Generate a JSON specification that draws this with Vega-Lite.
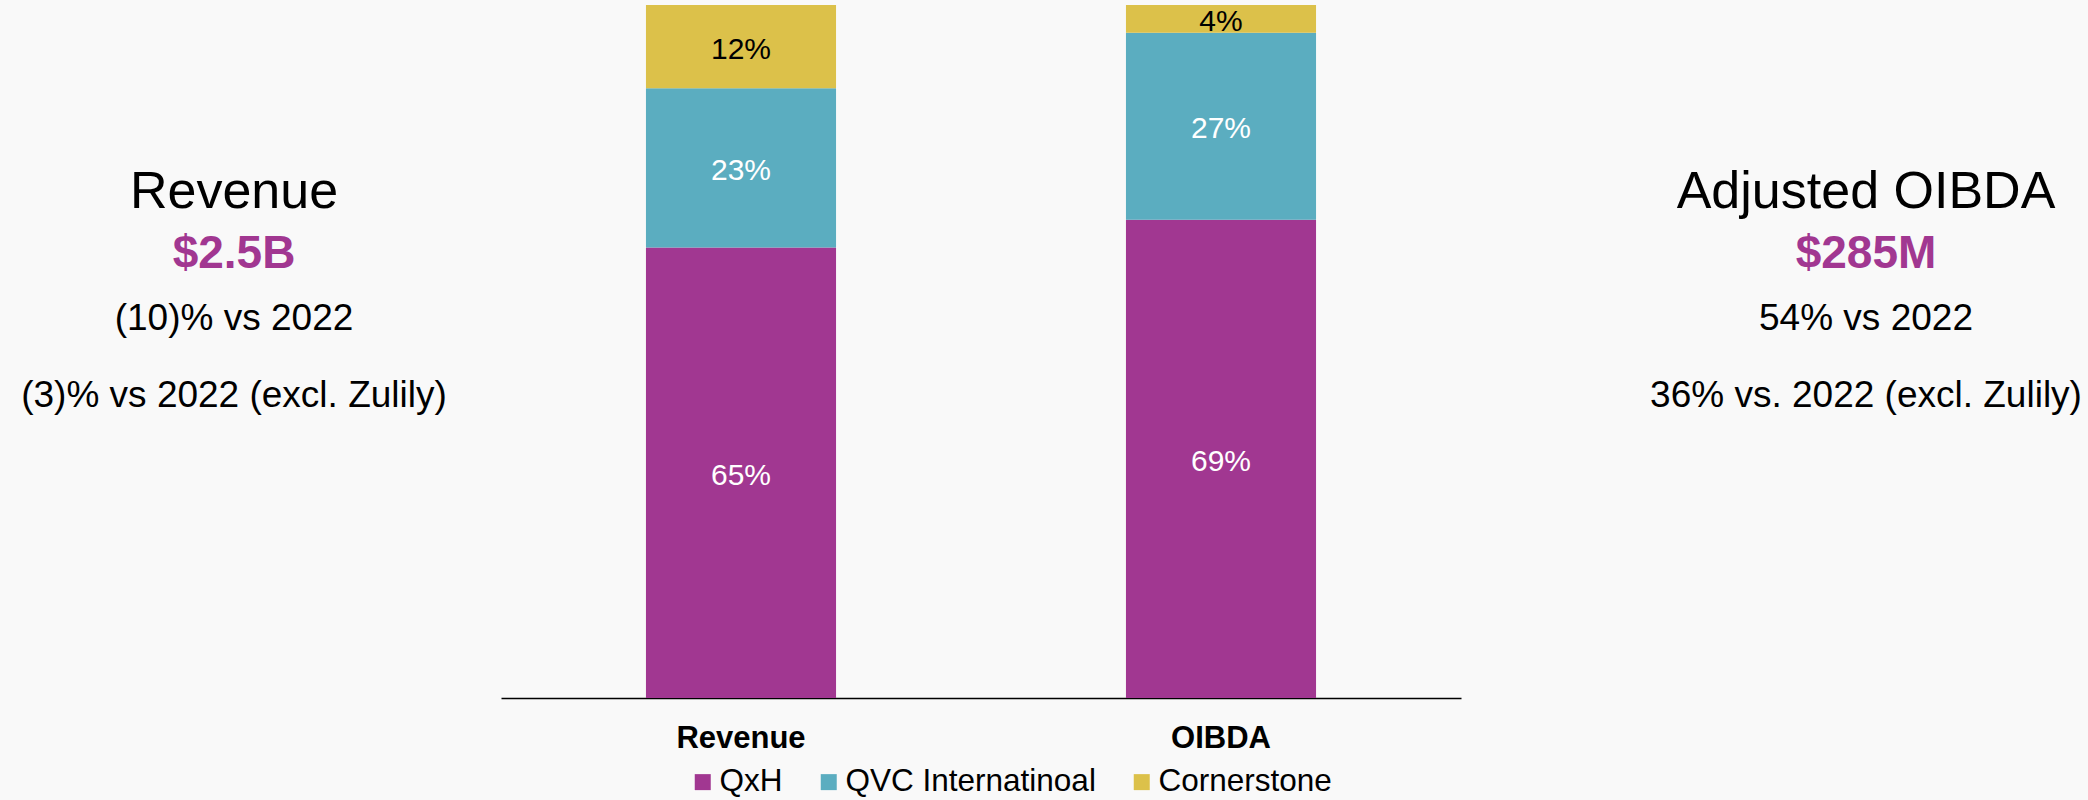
{
  "$schema": "https://vega.github.io/schema/vega-lite/v6.json",
  "width": 2088,
  "height": 693,
  "autosize": {"type": "none"},
  "padding": {"left": 0, "top": 5, "right": 0, "bottom": 102},
  "background": "#f9f9f9",
  "config": {
    "view": {"stroke": null},
    "font": "Liberation Sans",
    "text": {"font": "Liberation Sans"}
  },
  "datasets": {
    "bars": [
      {"metric": "Revenue", "segment": "QxH", "pct": 0.65},
      {"metric": "Revenue", "segment": "QVC Internatinoal", "pct": 0.23},
      {"metric": "Revenue", "segment": "Cornerstone", "pct": 0.12},
      {"metric": "OIBDA", "segment": "QxH", "pct": 0.69},
      {"metric": "OIBDA", "segment": "QVC Internatinoal", "pct": 0.27},
      {"metric": "OIBDA", "segment": "Cornerstone", "pct": 0.04}
    ],
    "notes": [
      {"side": "left", "role": "title", "text": "Revenue"},
      {"side": "left", "role": "value", "text": "$2.5B"},
      {"side": "left", "role": "sub1", "text": "(10)% vs 2022"},
      {"side": "left", "role": "sub2", "text": "(3)% vs 2022 (excl. Zulily)"},
      {"side": "right", "role": "title", "text": "Adjusted OIBDA"},
      {"side": "right", "role": "value", "text": "$285M"},
      {"side": "right", "role": "sub1", "text": "54% vs 2022"},
      {"side": "right", "role": "sub2", "text": "36% vs. 2022 (excl. Zulily)"}
    ]
  },
  "resolve": {"scale": {"x": "independent", "y": "independent"}},
  "layer": [
    {
      "data": {"name": "bars"},
      "transform": [
        {"stack": "pct", "groupby": ["metric"], "sort": [{"field": "segment", "order": "descending"}], "as": ["y0", "y1"]}
      ],
      "mark": {"type": "bar"},
      "encoding": {
        "x": {
          "field": "metric", "type": "nominal", "sort": ["Revenue", "OIBDA"],
          "scale": {"type": "band", "range": [501, 1461], "paddingInner": 0.604, "paddingOuter": 0.302},
          "axis": {
            "title": null, "ticks": false, "tickSize": 0, "domainColor": "#000000", "domainWidth": 1.5,
            "labelFont": "Liberation Sans", "labelFontSize": 31, "labelFontWeight": "bold", "labelColor": "#000000",
            "labelBaseline": "alphabetic", "labelPadding": 49, "labelAngle": 0
          }
        },
        "y": {"field": "y1", "type": "quantitative", "scale": {"domain": [0, 1]}, "axis": null},
        "y2": {"field": "y0"},
        "color": {
          "field": "segment", "type": "nominal",
          "scale": {"domain": ["QxH", "QVC Internatinoal", "Cornerstone"], "range": ["#a13791", "#5badc0", "#dcc14a"]},
          "legend": {
            "title": null, "orient": "none", "direction": "horizontal", "legendX": 687, "legendY": 761,
            "symbolType": "square", "symbolSize": 256, "symbolStrokeWidth": 0, "symbolOpacity": 1,
            "labelFont": "Liberation Sans", "labelFontSize": 31.5, "labelColor": "#000000", "labelOffset": 1,
            "labelLimit": 0, "columnPadding": 30, "padding": 0
          }
        }
      }
    },
    {
      "data": {"name": "bars"},
      "transform": [
        {"stack": "pct", "groupby": ["metric"], "sort": [{"field": "segment", "order": "descending"}], "as": ["y0", "y1"]},
        {"fold": ["y0", "y1"], "as": ["k", "v"]},
        {"aggregate": [{"op": "mean", "field": "v", "as": "mid"}], "groupby": ["metric", "segment", "pct"]}
      ],
      "mark": {"type": "text", "fontSize": 30, "baseline": "middle", "align": "center", "dy": 3},
      "encoding": {
        "x": {
          "field": "metric", "type": "nominal", "sort": ["Revenue", "OIBDA"],
          "scale": {"type": "band", "range": [501, 1461], "paddingInner": 0.604, "paddingOuter": 0.302},
          "axis": null
        },
        "y": {"field": "mid", "type": "quantitative", "scale": {"domain": [0, 1]}, "axis": null},
        "text": {"field": "pct", "type": "quantitative", "format": ".0%"},
        "color": {"condition": {"test": "datum.segment === 'Cornerstone'", "value": "#000000"}, "value": "#ffffff"}
      }
    },
    {
      "data": {"name": "notes"},
      "transform": [{"filter": "datum.role === 'title'"}],
      "mark": {"type": "text", "fontSize": 52, "baseline": "alphabetic", "align": "center", "color": "#000000"},
      "encoding": {
        "x": {"field": "side", "type": "nominal", "scale": {"type": "point", "domain": ["left", "right"], "range": [234, 1866], "padding": 0}, "axis": null},
        "y": {"field": "role", "type": "nominal", "scale": {"type": "point", "domain": ["title", "value", "sub1", "sub2"], "range": [203, 402], "padding": 0}, "axis": null},
        "text": {"field": "text"}
      }
    },
    {
      "data": {"name": "notes"},
      "transform": [{"filter": "datum.role === 'value'"}],
      "mark": {"type": "text", "fontSize": 46, "fontWeight": "bold", "baseline": "alphabetic", "align": "center", "color": "#a13791", "dy": -6},
      "encoding": {
        "x": {"field": "side", "type": "nominal", "scale": {"type": "point", "domain": ["left", "right"], "range": [234, 1866], "padding": 0}, "axis": null},
        "y": {"field": "role", "type": "nominal", "scale": {"type": "point", "domain": ["title", "value", "sub1", "sub2"], "range": [203, 402], "padding": 0}, "axis": null},
        "text": {"field": "text"}
      }
    },
    {
      "data": {"name": "notes"},
      "transform": [{"filter": "datum.role === 'sub1'"}],
      "mark": {"type": "text", "fontSize": 37, "baseline": "alphabetic", "align": "center", "color": "#000000", "dy": -11},
      "encoding": {
        "x": {"field": "side", "type": "nominal", "scale": {"type": "point", "domain": ["left", "right"], "range": [234, 1866], "padding": 0}, "axis": null},
        "y": {"field": "role", "type": "nominal", "scale": {"type": "point", "domain": ["title", "value", "sub1", "sub2"], "range": [203, 402], "padding": 0}, "axis": null},
        "text": {"field": "text"}
      }
    },
    {
      "data": {"name": "notes"},
      "transform": [{"filter": "datum.role === 'sub2'"}],
      "mark": {"type": "text", "fontSize": 37, "baseline": "alphabetic", "align": "center", "color": "#000000"},
      "encoding": {
        "x": {"field": "side", "type": "nominal", "scale": {"type": "point", "domain": ["left", "right"], "range": [234, 1866], "padding": 0}, "axis": null},
        "y": {"field": "role", "type": "nominal", "scale": {"type": "point", "domain": ["title", "value", "sub1", "sub2"], "range": [203, 402], "padding": 0}, "axis": null},
        "text": {"field": "text"}
      }
    }
  ]
}
